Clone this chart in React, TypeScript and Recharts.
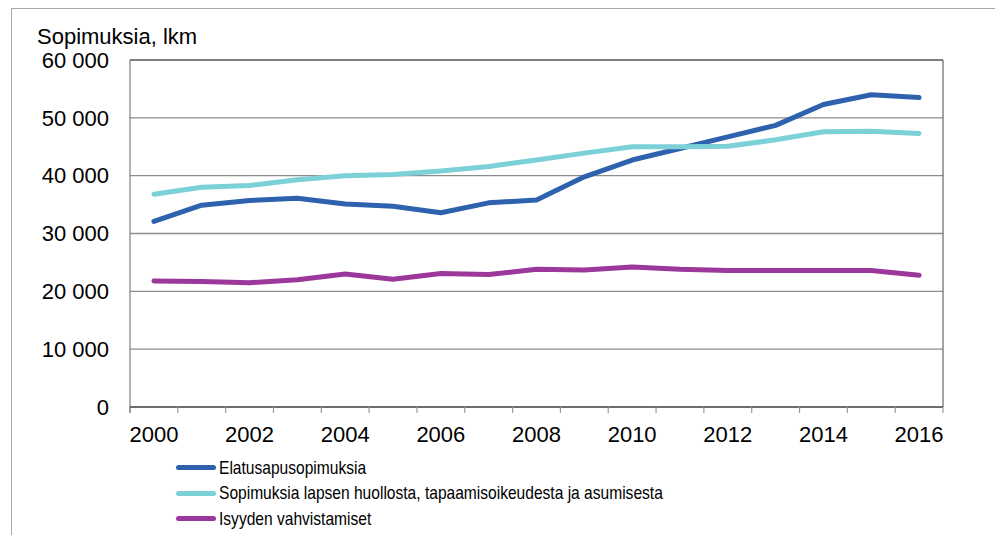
import React from 'react';
import { LineChart, Line, XAxis, YAxis, CartesianGrid, Legend, ReferenceLine } from 'recharts';

const years = [2000, 2001, 2002, 2003, 2004, 2005, 2006, 2007, 2008, 2009, 2010, 2011, 2012, 2013, 2014, 2015, 2016];
const elatus = [32100, 34900, 35700, 36100, 35100, 34700, 33600, 35300, 35800, 39800, 42700, 44700, 46700, 48700, 52300, 54000, 53500];
const huolto = [36800, 38000, 38300, 39300, 40000, 40200, 40800, 41600, 42700, 43900, 45000, 45000, 45100, 46200, 47600, 47700, 47300];
const isyys = [21800, 21700, 21500, 22000, 23000, 22100, 23100, 22900, 23800, 23700, 24200, 23800, 23600, 23600, 23600, 23600, 22800];
const yTicks = [0, 10000, 20000, 30000, 40000, 50000, 60000];
const labelYears = [2000, 2002, 2004, 2006, 2008, 2010, 2012, 2014, 2016];
const tickMarks = [1999.5, 2000.5, 2001.5, 2002.5, 2003.5, 2004.5, 2005.5, 2006.5, 2007.5, 2008.5, 2009.5, 2010.5, 2011.5, 2012.5, 2013.5, 2014.5, 2015.5, 2016.5];

const seriesNames = {
  elatus: 'Elatusapusopimuksia',
  huolto: 'Sopimuksia lapsen huollosta, tapaamisoikeudesta ja asumisesta',
  isyys: 'Isyyden vahvistamiset',
};
const colors = { elatus: '#2E62AE', huolto: '#7CD0D8', isyys: '#9C389B' };

const data = years.map((y, i) => ({ year: y, elatus: elatus[i], huolto: huolto[i], isyys: isyys[i] }));
const xTicks = [...tickMarks, ...labelYears].sort((a, b) => a - b);

const FONT = '"Liberation Sans", Arial, sans-serif';

const XTick = (props: any) => {
  const { x, y, payload } = props;
  const v = payload.value;
  if (Number.isInteger(v)) {
    return (
      <text x={x} y={y + 27} dy="0.355em" textAnchor="middle" fill="#000" fontSize={22} fontFamily={FONT}>
        {v}
      </text>
    );
  }
  return <line x1={x} y1={y} x2={x} y2={y + 6} stroke={v === 1999.5 ? '#555' : '#999'} strokeWidth={1.2} />;
};

const LegendContent = () => (
  <div style={{ fontFamily: FONT, fontSize: 18.6, color: '#000' }}>
    {(['elatus', 'huolto', 'isyys'] as const).map((k) => (
      <div key={k} style={{ display: 'flex', alignItems: 'center', height: 25.5, whiteSpace: 'nowrap' }}>
        <span style={{ display: 'inline-block', width: 40, height: 5, borderRadius: 3, background: colors[k], marginRight: 3 }} />
        <span style={{ display: 'inline-block', transform: 'scaleX(0.837)', transformOrigin: 'left center' }}>{seriesNames[k]}</span>
      </div>
    ))}
  </div>
);

export default function App() {
  return (
    <div style={{ marginLeft: 3, width: 986, height: 527, borderTop: '1px solid #a8a8a8', borderLeft: '1px solid #a8a8a8', borderRight: '1px solid #a8a8a8' }}>
      <LineChart width={986} height={526} data={data} margin={{ top: 51, right: 55, left: 0, bottom: 98 }}>
        <CartesianGrid vertical={false} stroke="#8c8c8c" strokeWidth={1.3} />
        <XAxis
          dataKey="year"
          type="number"
          domain={[1999.5, 2016.5]}
          ticks={xTicks}
          interval={0}
          tickLine={false}
          tickSize={0}
          tickMargin={0}
          height={30}
          stroke="#333"
          tick={<XTick />}
        />
        <YAxis
          width={118}
          domain={[0, 60000]}
          ticks={yTicks}
          interval={0}
          tickLine={false}
          tickSize={0}
          tickMargin={21}
          stroke="#666"
          tick={{ fill: '#000', fontSize: 22, fontFamily: FONT }}
          tickFormatter={(v: number) => (v === 0 ? '0' : `${v / 1000} 000`)}
          label={{
            value: 'Sopimuksia, lkm',
            content: (p: any) => (
              <text x={p.viewBox.x + 25} y={p.viewBox.y - 16} fill="#000" fontSize={22} fontFamily={FONT}>
                Sopimuksia, lkm
              </text>
            ),
          }}
        />
        <ReferenceLine y={60000} stroke="#555" strokeWidth={1.2} />
        <ReferenceLine x={2016.5} stroke="#666" strokeWidth={1.2} />
        <Line type="linear" dataKey="elatus" name={seriesNames.elatus} stroke={colors.elatus} strokeWidth={5} strokeLinecap="round" strokeLinejoin="round" dot={false} activeDot={false} isAnimationActive={false} />
        <Line type="linear" dataKey="huolto" name={seriesNames.huolto} stroke={colors.huolto} strokeWidth={5} strokeLinecap="round" strokeLinejoin="round" dot={false} activeDot={false} isAnimationActive={false} />
        <Line type="linear" dataKey="isyys" name={seriesNames.isyys} stroke={colors.isyys} strokeWidth={5} strokeLinecap="round" strokeLinejoin="round" dot={false} activeDot={false} isAnimationActive={false} />
        <Legend
          layout="horizontal"
          align="center"
          verticalAlign="middle"
          width={700}
          content={<LegendContent />}
          wrapperStyle={{ left: 164, top: 446, width: 700, height: 80 }}
        />
      </LineChart>
    </div>
  );
}
